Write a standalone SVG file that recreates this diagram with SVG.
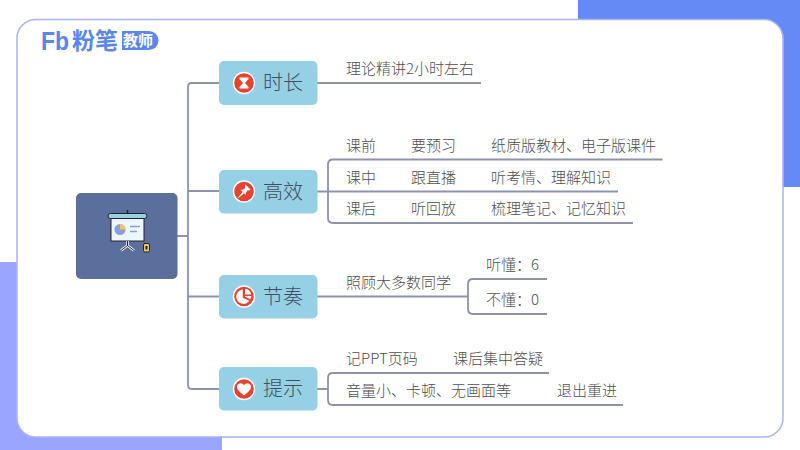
<svg xmlns="http://www.w3.org/2000/svg" width="800" height="450" viewBox="0 0 800 450">
<style>
text{font-family:"Noto Sans CJK SC","Noto Sans",sans-serif}
.t{font-size:15px;fill:#4f4f4f;font-weight:300}
.h{font-size:20px;fill:#3f4e62;font-weight:300}
.l{fill:none;stroke:#8f93aa;stroke-width:1.800}
.n{fill:#96d0e4}
.i{fill:#e8432f;stroke:#fff;stroke-width:1.400}
.w{fill:#fff}
</style>
<rect x="578" y="0" width="222" height="187" fill="#668af5"/>
<rect x="0" y="262" width="222" height="188" fill="#9aa5ff"/>
<rect x="17" y="19.500" width="766" height="417.500" rx="19" fill="#fff" stroke="#a9b4f7" stroke-width="1.500"/>
<g id="logo">
<text x="41" y="50" font-size="26" font-weight="900" fill="#5b86ee" textLength="28" lengthAdjust="spacingAndGlyphs" style="font-family:'Liberation Sans',sans-serif">Fb</text>
<text x="72" y="49" font-size="23" font-weight="700" fill="#5b86ee">粉笔</text>
<path d="M122 31H149a9.500 9.500 0 0 1 0 19H122Z" fill="#5b86ee"/>
<text x="123" y="46" font-size="15" font-weight="700" fill="#fff">教师</text>
</g>
<g id="connectors">
<path class="l" d="M177 236H188M219 83H192Q188 83 188 87V385Q188 389 192 389H219M188 191H219M188 296.500H219"/>
<path class="l" d="M317 83H481"/>
<path class="l" d="M317 191.500H618M662.500 159.500H333Q328 159.500 328 164.500V218Q328 223 333 223H633"/>
<path class="l" d="M317 296.500H468M547 279H473Q468 279 468 284V309Q468 314 473 314H547"/>
<path class="l" d="M317 389H328M549 373H333Q328 373 328 378V400Q328 405 333 405H623"/>
</g>
<g id="root">
<rect x="76" y="193" width="101.500" height="86" rx="5" fill="#5a6f9c"/>
<rect x="111" y="218" width="33" height="23" fill="#edf6fb" stroke="#22252c" stroke-width="1"/>
<rect x="108" y="213.500" width="39" height="5" rx="2.500" fill="#96d0e4" stroke="#22252c"/>
<path d="M127.500 213V210" stroke="#22252c" stroke-width="1.500"/>
<path d="M127.500 241V246M127.500 245.500L121 250.500M127.500 245.500L134 250.500" stroke="#fff" stroke-width="2.500" fill="none"/>
<path d="M127.500 241V246M127.500 245.500L121 250.500M127.500 245.500L134 250.500" stroke="#22252c" stroke-width="1" fill="none"/>
<circle cx="120" cy="229.500" r="5.500" fill="#8c9ee0"/>
<path d="M120 224a5.500 5.500 0 0 1 5.500 5.500H120Z" fill="#f3c463"/>
<path d="M130 226.500H140M130 231.500H137" stroke="#8c9ee0" stroke-width="1.500"/>
<rect x="143.500" y="243.500" width="6" height="8.500" rx="1.500" fill="#f3c463" stroke="#22252c"/>
<rect x="145.500" y="246" width="2" height="3.500" fill="#22252c"/>
</g>
<g id="node-duration">
<rect class="n" x="219" y="61" width="98.500" height="44" rx="5"/>
<circle class="i" cx="244" cy="83" r="10.500"/>
<path class="w" d="M239.500 77.500H248.500V79L245 83L248.500 87V88.500H239.500V87L243 83L239.500 79Z"/>
<text class="h" x="263" y="90">时长</text>
</g>
<g id="node-efficient">
<rect class="n" x="219" y="170" width="98.500" height="43.500" rx="5"/>
<circle class="i" cx="244" cy="191.500" r="10.500"/>
<path class="w" d="M245.500 184.500L250.500 189.500L249.200 190.500L247.500 190.300L245.800 193L245.800 195L240.500 189.700L242.500 189.700L245.200 188L245 186Z"/>
<path d="M242.500 192.500L243.500 193.500L238.500 197.500Z" fill="#fff" stroke="#fff" stroke-width=".8"/>
<text class="h" x="263" y="198.500">高效</text>
</g>
<g id="node-rhythm">
<rect class="n" x="219" y="275" width="98.500" height="43.500" rx="5"/>
<circle class="i" cx="244" cy="296.500" r="10.500"/>
<path class="w" d="M242.800 289.500V297.800L249.300 300.800A7.200 7.200 0 1 1 242.800 289.500Z"/>
<path class="w" d="M245 288.800A7.200 7.200 0 0 1 251.200 294.500H245Z"/>
<path class="w" d="M245 296H251.300A7.200 7.200 0 0 1 250.300 299.200L245 296.800Z"/>
<text class="h" x="263" y="303.500">节奏</text>
</g>
<g id="node-tips">
<rect class="n" x="219" y="367" width="98.500" height="43.500" rx="5"/>
<circle class="i" cx="244" cy="389" r="10.500"/>
<path class="w" d="M244 395.500C239 391.500 237 389.500 237 386.800C237 383 241.800 382.200 244 385.200C246.200 382.200 251 383 251 386.800C251 389.500 249 391.500 244 395.500Z"/>
<text class="h" x="263" y="396">提示</text>
</g>
<g id="labels">
<text class="t" x="346" y="74">理论精讲2小时左右</text>
<text class="t" x="346" y="151">课前</text>
<text class="t" x="411" y="151">要预习</text>
<text class="t" x="491" y="151">纸质版教材、电子版课件</text>
<text class="t" x="346" y="182.500">课中</text>
<text class="t" x="411" y="182.500">跟直播</text>
<text class="t" x="491" y="182.500">听考情、理解知识</text>
<text class="t" x="346" y="214">课后</text>
<text class="t" x="411" y="214">听回放</text>
<text class="t" x="491" y="214">梳理笔记、记忆知识</text>
<text class="t" x="346" y="288">照顾大多数同学</text>
<text class="t" x="486" y="270">听懂：6</text>
<text class="t" x="486" y="305">不懂：0</text>
<text class="t" x="346" y="364">记PPT页码</text>
<text class="t" x="453" y="364">课后集中答疑</text>
<text class="t" x="346" y="396">音量小、卡顿、无画面等</text>
<text class="t" x="557" y="396">退出重进</text>
</g>
</svg>
